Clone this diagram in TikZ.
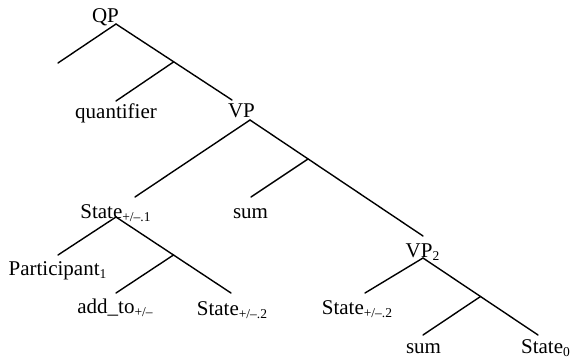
\documentclass[tikz,border=0pt]{standalone}
\usepackage{fontspec}
\setmainfont{Liberation Serif}
\newcommand{\lbsub}[1]{\raisebox{-3pt}{\fontsize{13.5}{14}\selectfont #1}}
\tikzset{
  lbl/.style={inner sep=0pt, anchor=base, font=\fontsize{21}{24}\selectfont},
  edge/.style={line width=1.4pt, line cap=round}
}
\begin{document}
\begin{tikzpicture}[x=1pt,y=-1pt]
\useasboundingbox (0,0) rectangle (572,358);
% tree points
\coordinate (qp) at (116,24);
\coordinate (e1) at (58,63);
\coordinate (b1) at (173.5,62);
\coordinate (qe) at (116,101);
\coordinate (vpe) at (232,100);
\coordinate (vp) at (250,120);
\coordinate (s1e) at (135,197);
\coordinate (b2) at (308,159);
\coordinate (sume) at (251,197);
\coordinate (vp2e) at (423,236);
\coordinate (s1) at (116,217);
\coordinate (pe) at (58,255);
\coordinate (b3) at (173.5,255);
\coordinate (ae) at (116,293);
\coordinate (s2e) at (231,293);
\coordinate (vp2) at (423,258);
\coordinate (s2re) at (365,293);
\coordinate (b4) at (480.5,296.5);
\coordinate (sum2e) at (423,335);
\coordinate (s0e) at (538,335);
% labels
\node[lbl] (tqp) at (105.5,23) {QP};
\node[lbl] (tq) at (116,119) {quantifier};
\node[lbl] (tvp) at (241.5,118) {VP};
\node[lbl] (ts1) at (115.5,218) {State\lbsub{+/–.1}};
\node[lbl] (tsum) at (250.5,218) {sum};
\node[lbl] (tp) at (57.5,275) {Participant\lbsub{1}};
\node[lbl] (ta) at (115,313) {add\_to\lbsub{+/–}};
\node[lbl] (ts2) at (232,315) {State\lbsub{+/–.2}};
\node[lbl] (tvp2) at (422.5,257) {VP\lbsub{2}};
\node[lbl] (ts2r) at (357,314) {State\lbsub{+/–.2}};
\node[lbl] (tsum2) at (423.5,353) {sum};
\node[lbl] (ts0) at (545.5,353) {State\lbsub{0}};
% edges
\draw[edge] (e1) -- (qp) -- (vpe);
\draw[edge] (b1) -- (qe);
\draw[edge] (s1e) -- (vp) -- (vp2e);
\draw[edge] (b2) -- (sume);
\draw[edge] (pe) -- (s1) -- (s2e);
\draw[edge] (b3) -- (ae);
\draw[edge] (s2re) -- (vp2) -- (s0e);
\draw[edge] (b4) -- (sum2e);
\end{tikzpicture}
\end{document}
